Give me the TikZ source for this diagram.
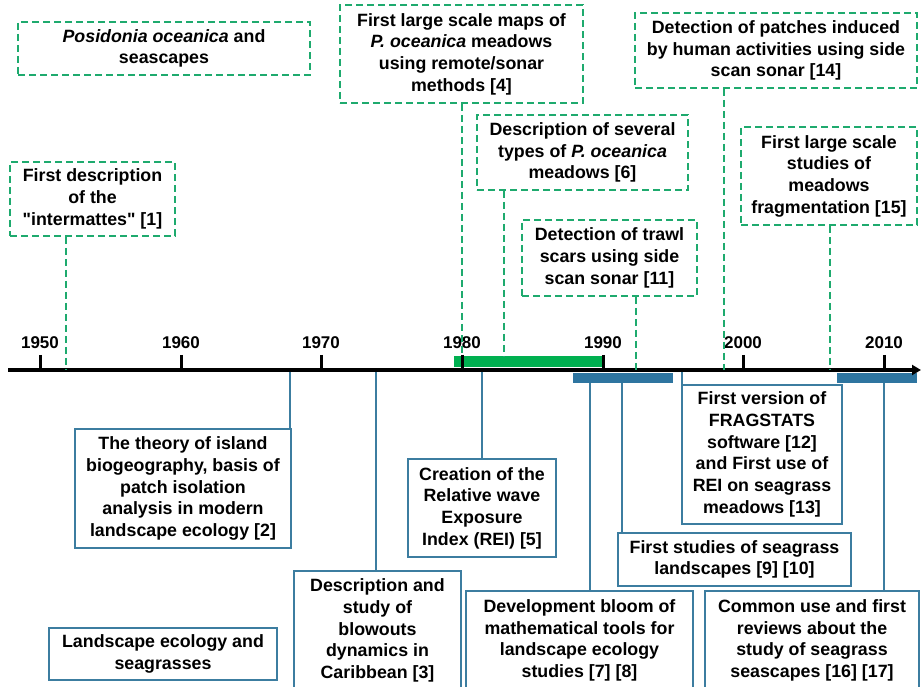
\documentclass[tikz,border=0pt]{standalone}
\usepackage{fontspec}
\setmainfont{Liberation Sans}
\usetikzlibrary{arrows.meta}
\definecolor{dgreen}{RGB}{30,170,110}
\definecolor{lblue}{RGB}{60,125,160}
\definecolor{bblue}{RGB}{46,117,160}
\definecolor{bgreen}{RGB}{0,176,80}
\begin{document}
\begin{tikzpicture}[x=1pt,y=-1pt,
  every node/.style={font=\fontsize{17.8}{21.7}\selectfont\bfseries, align=center, inner sep=0pt},
  gbox/.style={draw=dgreen, line width=1.6pt, dash pattern=on 7pt off 4pt},
  bbox/.style={draw=lblue, line width=1.8pt, fill=white},
  gline/.style={draw=dgreen, line width=1.6pt, dash pattern=on 7pt off 4pt},
  bline/.style={draw=lblue, line width=1.5pt},
  tickmark/.style={draw=black, line width=3pt},
  yearlab/.style={font=\fontsize{17}{20}\selectfont\bfseries}]
\useasboundingbox (0,0) rectangle (922,687);
\clip (0,0) rectangle (922,687);

% ---- bars and axis ----
\fill[bgreen] (454,356) rectangle (603,367);
\fill[bblue] (573,373) rectangle (673,383);
\fill[bblue] (837,373) rectangle (917,383);
\coordinate (axstart) at (8,370);
\coordinate (axend) at (921,370);
\draw[line width=3.5pt, -{Triangle[length=9pt,width=10pt]}] (axstart) -- (axend);

% ticks and labels
\foreach \yr/\xx in {1950/40,1960/181,1970/321,1980/462,1990/603,2000/743,2010/884}{
  \draw[tickmark] (\xx,355) -- (\xx,370);
  \node[yearlab] (y\yr) at (\xx,343) {\yr};
}

% ---- top (dashed green) boxes ----
\node[gbox, minimum width=292, minimum height=53] (t0) at (164,48.5)
  {\textit{Posidonia oceanica} and\\seascapes};
\node[gbox, minimum width=165, minimum height=74] (t1) at (92.5,199)
  {First description\\of the\\\textquotedbl intermattes\textquotedbl{} [1]};
\node[gbox, minimum width=243, minimum height=98] (t4) at (461.5,54)
  {First large scale maps of\\\textit{P. oceanica} meadows\\using remote/sonar\\methods [4]};
\node[gbox, minimum width=211, minimum height=75] (t6) at (582.5,152.5)
  {Description of several\\types of \textit{P. oceanica}\\meadows [6]};
\node[gbox, minimum width=175, minimum height=76] (t11) at (609.5,258)
  {Detection of trawl\\scars using side\\scan sonar [11]};
\node[gbox, minimum width=282, minimum height=75] (t14) at (776,50.5)
  {Detection of patches induced\\by human activities using side\\scan sonar [14]};
\node[gbox, minimum width=176, minimum height=98] (t15) at (829,176)
  {First large scale\\studies of\\meadows\\fragmentation [15]};

% axis anchor points for top connectors
\coordinate (a1) at (66,370);
\coordinate (a4) at (462,356);
\coordinate (a6) at (504,356);
\coordinate (a11) at (636,370);
\coordinate (a14) at (724,370);
\coordinate (a15) at (830,370);
\draw[gline] (t1.south -| a1) -- (a1);
\draw[gline] (t4.south -| a4) -- (a4);
\draw[gline] (t6.south -| a6) -- (a6);
\draw[gline] (t11.south -| a11) -- (a11);
\draw[gline] (t14.south -| a14) -- (a14);
\draw[gline] (t15.south -| a15) -- (a15);

% ---- bottom (solid blue) boxes ----
\node[bbox, minimum width=216, minimum height=119] (b2) at (183,488.5)
  {The theory of island\\biogeography, basis of\\patch isolation\\analysis in modern\\landscape ecology [2]};
\node[bbox, minimum width=167, minimum height=119] (b3) at (377.5,630.5)
  {Description and\\study of\\blowouts\\dynamics in\\Caribbean [3]};
\node[bbox, minimum width=228, minimum height=52] (leg) at (163,654)
  {Landscape ecology and\\seagrasses};
\node[bbox, minimum width=148, minimum height=98] (b5) at (482,508)
  {Creation of the\\Relative wave\\Exposure\\Index (REI) [5]};
\node[bbox, minimum width=160, minimum height=139] (b12) at (762,454.5)
  {First version of\\FRAGSTATS\\software [12]\\and First use of\\REI on seagrass\\meadows [13]};
\node[bbox, minimum width=233, minimum height=53] (b9) at (734.5,559.5)
  {First studies of seagrass\\landscapes [9] [10]};
\node[bbox, minimum width=227, minimum height=99] (b7) at (579.5,640.5)
  {Development bloom of\\mathematical tools for\\landscape ecology\\studies [7] [8]};
\node[bbox, minimum width=214, minimum height=99] (b16) at (812,640.5)
  {Common use and first\\reviews about the\\study of seagrass\\seascapes [16] [17]};

% axis anchor points for bottom connectors
\coordinate (c2) at (290,372);
\coordinate (c3) at (376,372);
\coordinate (c5) at (482,372);
\coordinate (c12) at (682,372);
\coordinate (c7) at (590,383);
\coordinate (c9) at (622,383);
\coordinate (c16) at (884,383);
\draw[bline] (c2) -- (c2 |- b2.north);
\draw[bline] (c3) -- (c3 |- b3.north);
\draw[bline] (c5) -- (c5 |- b5.north);
\draw[bline] (c12) -- (c12 |- b12.north);
\draw[bline] (c7) -- (c7 |- b7.north);
\draw[bline] (c9) -- (c9 |- b9.north);
\draw[bline] (c16) -- (c16 |- b16.north);
\end{tikzpicture}
\end{document}
